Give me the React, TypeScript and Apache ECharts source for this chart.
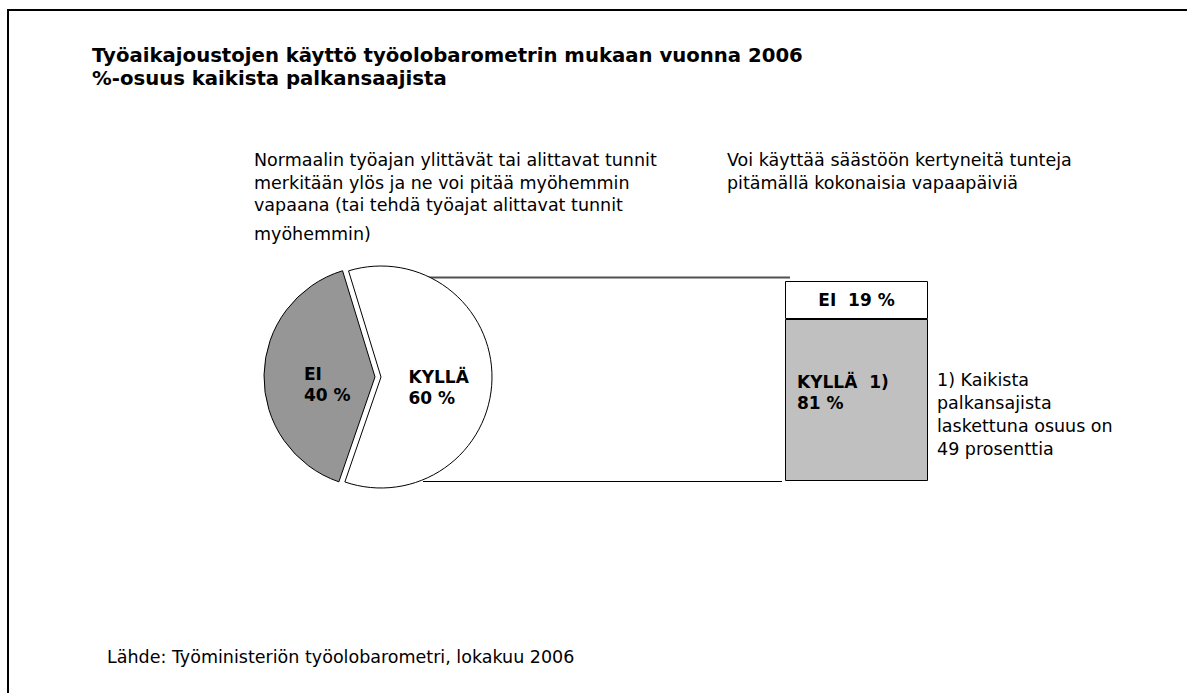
import React, { useEffect, useRef } from "react";
import * as echarts from "echarts";

const titleLines = [
  "Työaikajoustojen käyttö työolobarometrin mukaan vuonna 2006",
  "%-osuus kaikista palkansaajista",
];
const leftHeadingLines = [
  "Normaalin työajan ylittävät tai alittavat tunnit",
  "merkitään ylös ja ne voi pitää myöhemmin",
  "vapaana (tai tehdä työajat alittavat tunnit",
];
const leftHeadingLast = "myöhemmin)";
const rightHeadingLines = [
  "Voi käyttää säästöön kertyneitä tunteja",
  "pitämällä kokonaisia vapaapäiviä",
];
const footnoteLines = ["1) Kaikista", "palkansajista", "laskettuna osuus on", "49 prosenttia"];
const sourceText = "Lähde: Työministeriön työolobarometri, lokakuu 2006";

const pieCategories = ["KYLLÄ", "EI"];
const pieValues = [60, 40];
const pieColors = ["#ffffff", "#969696"];

const barCategories = ["KYLLÄ  1)", "EI"];
const barValues = [81, 19];
const barColors = ["#c0c0c0", "#ffffff"];

const REG = "DejaVu Sans";

export default function App() {
  const ref = useRef<HTMLDivElement>(null);
  useEffect(() => {
    if (!ref.current) return;
    const chart = echarts.init(ref.current, null, { renderer: "svg" });
    const regStyle = { fontFamily: REG, fontSize: 17.5, fontWeight: "normal", color: "#000", lineHeight: 22.5 };
    const boldLabel = { fontFamily: REG, fontSize: 17, fontWeight: "bold", color: "#000", lineHeight: 21 };
    const pieLabelPads = [
      [18, 0, 0, 0],
      [18, 0, 0, 22],
    ];
    const pieLabelWidths = [62, 47];
    const option: any = {
      animation: false,
      backgroundColor: "#ffffff",
      title: [
        {
          text: titleLines.join("\n"),
          left: 92,
          top: 44,
          padding: 0,
          textStyle: { fontFamily: REG, fontSize: 19.7, fontWeight: "bold", color: "#000", lineHeight: 23 },
        },
        { text: leftHeadingLines.join("\n"), left: 254, top: 149, padding: 0, textStyle: regStyle },
        { text: leftHeadingLast, left: 254, top: 223, padding: 0, textStyle: regStyle },
        { text: rightHeadingLines.join("\n"), left: 727, top: 149, padding: 0, textStyle: regStyle },
        { text: footnoteLines.join("\n"), left: 937, top: 369, padding: 0, textStyle: { ...regStyle, lineHeight: 22.8 } },
        { text: sourceText, left: 107, top: 646, padding: 0, textStyle: regStyle },
      ],
      grid: { left: 785, top: 281, width: 143, height: 200 },
      xAxis: { type: "category", data: [""], show: false },
      yAxis: { type: "value", min: 0, max: 100, show: false },
      graphic: [
        {
          type: "rect",
          shape: { x: 8, y: 10, width: 1300, height: 800 },
          style: { fill: "none", stroke: "#000", lineWidth: 2 },
          silent: true,
        },
        {
          type: "line",
          shape: { x1: 423, y1: 277.5, x2: 790, y2: 277.5 },
          style: { stroke: "#505050", lineWidth: 2 },
          silent: true,
        },
        {
          type: "line",
          shape: { x1: 423, y1: 481.5, x2: 782, y2: 481.5 },
          style: { stroke: "#000", lineWidth: 1 },
          silent: true,
        },
      ],
      series: [
        {
          type: "pie",
          center: [381, 377],
          radius: 111,
          startAngle: 107,
          clockwise: true,
          selectedMode: "single",
          selectedOffset: 6,
          avoidLabelOverlap: false,
          emphasis: { disabled: true },
          labelLine: { show: false },
          label: {
            show: true,
            position: "inside",
            formatter: (p: any) => `{b|${p.name}}\n{b|${p.value} %}`,
          },
          data: pieCategories.map((name, i) => ({
            name,
            value: pieValues[i],
            selected: i === 1,
            itemStyle: { color: pieColors[i], borderColor: "#000", borderWidth: 1 },
            select: { itemStyle: { color: pieColors[i], borderColor: "#000", borderWidth: 1 } },
            label: {
              padding: pieLabelPads[i],
              rich: { b: { ...boldLabel, width: pieLabelWidths[i], align: "left" } },
            },
          })),
        },
        {
          type: "bar",
          name: barCategories[0],
          stack: "s",
          barWidth: "100%",
          data: [barValues[0]],
          itemStyle: { color: barColors[0], borderColor: "#000", borderWidth: 1 },
          emphasis: { disabled: true },
          label: {
            show: true,
            position: "insideLeft",
            distance: 12,
            offset: [0, -8],
            align: "left",
            ...boldLabel,
            formatter: (p: any) => `${p.seriesName}\n${p.value} %`,
          },
        },
        {
          type: "bar",
          name: barCategories[1],
          stack: "s",
          barWidth: "100%",
          data: [barValues[1]],
          itemStyle: { color: barColors[1], borderColor: "#000", borderWidth: 1 },
          emphasis: { disabled: true },
          label: {
            show: true,
            position: "inside",
            ...boldLabel,
            formatter: (p: any) => `${p.seriesName}  ${p.value} %`,
          },
        },
      ],
    };
    chart.setOption(option);
    return () => chart.dispose();
  }, []);
  return (
    <div
      ref={ref}
      style={{ position: "absolute", left: 0, top: 0, width: 1187, height: 693, background: "#fff" }}
    />
  );
}
